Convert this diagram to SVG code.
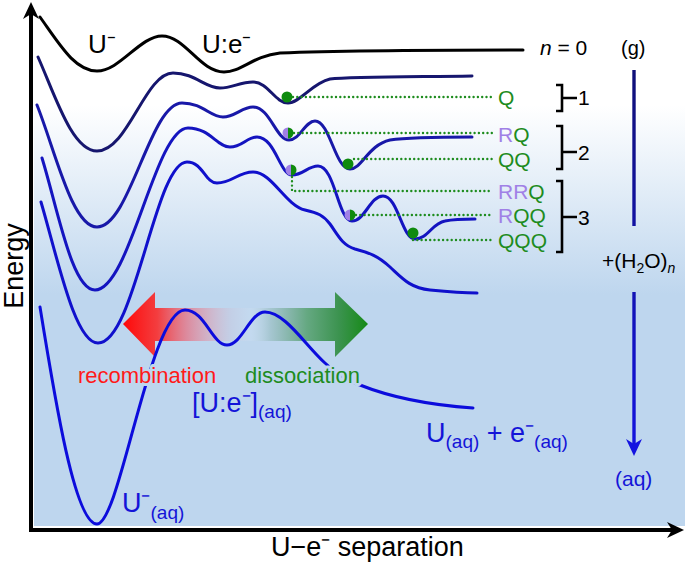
<svg xmlns="http://www.w3.org/2000/svg" width="685" height="565" viewBox="0 0 685 565">
<defs>
<linearGradient id="bg" gradientUnits="userSpaceOnUse" x1="0" y1="0" x2="0" y2="526">
<stop offset="0" stop-color="#ffffff"/>
<stop offset="0.2" stop-color="#ffffff"/>
<stop offset="0.56" stop-color="#bed6ee"/>
<stop offset="1" stop-color="#bed6ee"/>
</linearGradient>
<linearGradient id="arrowGrad" gradientUnits="userSpaceOnUse" x1="123" y1="0" x2="368" y2="0">
<stop offset="0" stop-color="#ff0808" stop-opacity="1"/>
<stop offset="0.14" stop-color="#f83030" stop-opacity="0.92"/>
<stop offset="0.26" stop-color="#f05868" stop-opacity="0.6"/>
<stop offset="0.44" stop-color="#f090a0" stop-opacity="0.1"/>
<stop offset="0.52" stop-color="#ffffff" stop-opacity="0.08"/>
<stop offset="0.6" stop-color="#3a8050" stop-opacity="0.18"/>
<stop offset="0.75" stop-color="#2a8a3a" stop-opacity="0.6"/>
<stop offset="0.88" stop-color="#2a8a3a" stop-opacity="0.88"/>
<stop offset="1" stop-color="#158a15" stop-opacity="1"/>
</linearGradient>
<linearGradient id="vGrad" gradientUnits="userSpaceOnUse" x1="0" y1="70" x2="0" y2="455">
<stop offset="0" stop-color="#101078"/>
<stop offset="1" stop-color="#1414e0"/>
</linearGradient>
</defs>
<style>
.curve{fill:none;stroke-width:3;stroke-linecap:round;stroke-linejoin:round}
.dot{fill:none;stroke:#1e8c1e;stroke-width:2.4;stroke-linecap:round;stroke-dasharray:0 4.3}
.t{font-family:"Liberation Sans",Arial,sans-serif}
.g{fill:#1e8c1e}
.p{fill:#a080e6}
.b{fill:#1414d8}
.k{fill:#000}
.halo{paint-order:stroke;stroke:#bed6ee;stroke-width:6;stroke-linejoin:round}
.brk{fill:none;stroke:#000;stroke-width:2.6}
</style>

<g id="background">
<rect x="34" y="0" width="651" height="526" fill="url(#bg)"/>
</g>

<g id="double-arrow">
<path d="M123,324 L155,292 L155,308 L335,308 L335,292 L368,324 L335,357 L335,341 L155,341 L155,357 Z" fill="url(#arrowGrad)"/>
</g>

<g id="axes">
<path d="M31,532 V12" stroke="#000" stroke-width="4" fill="none"/>
<path d="M31,2 L39,19 L31,14 L23,19 Z" fill="#000"/>
<path d="M29,530 H674" stroke="#000" stroke-width="4" fill="none"/>
<path d="M684,530 L667,538 L672,530 L667,522 Z" fill="#000"/>
</g>

<g id="curves">
<path id="curve-n0" class="curve" stroke="#000" d="M40,17 C60,45 75,71 97,71 C120,71 140,36 162,36 C185,36 200,72 224,72 C242,72 252,56 280,53 C330,51 420,50 523,50"/>
<path id="curve-n1" class="curve" stroke="#16166e" d="M38,57 C55,95 72,151 97,151 C128,151 145,73 173,73 C195,73 205,88 220,88 C232,88 240,82 253,82 C268,82 275,103 288,103 C300,103 312,83 330,79 C350,77 400,77 472,76"/>
<path id="curve-n2" class="curve" stroke="#1818a8" d="M37,105 C55,150 72,227 97,227 C130,227 150,103 182,103 C203,103 210,117 223,117 C235,117 242,107 253,107 C270,107 276,140 289,140 C300,140 305,121 315,121 C330,121 335,169 350,169 C362,169 368,145 390,140 C410,137 440,137 472,137"/>
<path id="curve-n3" class="curve" stroke="#1414c0" d="M42,158 C58,210 72,290 95,290 C130,290 155,128 188,128 C210,128 217,147 230,147 C242,147 247,137 257,137 C275,137 280,175 292,175 C303,175 308,166 318,166 C335,166 338,221 352,221 C365,221 370,196 383,196 C398,196 402,239 415,239 C428,239 432,223 445,221 C455,219 465,219 475,219"/>
<path id="curve-n4" class="curve" stroke="#1010cc" d="M41,202 C58,260 75,343 98,343 C135,343 155,162 187,162 C203,162 205,183 217,183 C232,183 238,172 253,172 C272,172 285,205 305,210 C318,213 323,215 330,224 C338,235 342,245 355,249 C370,253 378,256 390,267 C402,278 410,288 430,290 C450,292 460,293 477,293"/>
<path id="curve-aq" class="curve" stroke="#0c0cdc" d="M40,307 C55,400 75,524 97,524 C120,524 150,310 185,310 C205,310 212,345 227,345 C242,345 250,312 265,312 C285,312 305,345 325,363 C338,375 345,380 360,385 C390,397 430,405 473,408"/>
</g>

<g id="connectors">
<path class="dot" d="M293,97 H493"/>
<path class="dot" d="M294,133 H493"/>
<path class="dot" d="M354,159 H493"/>
<path class="dot" d="M292,177 V191 H493"/>
<path class="dot" d="M356,215 H493"/>
<path class="dot" d="M413,240 H493"/>
<path d="M634,70 V226" stroke="url(#vGrad)" stroke-width="3.4" fill="none"/>
<path d="M634,292 V444" stroke="url(#vGrad)" stroke-width="3.4" fill="none"/>
<path d="M634,456 L626,439 L634,444 L642,439 Z" fill="#1414e0"/>
</g>

<g id="markers">
<circle cx="287" cy="97" r="5.5" fill="#0e8a0e"/>
<path d="M288,127.5 A5.5,5.5 0 0 0 288,138.5 Z" fill="#a080e6"/>
<path d="M288,127.5 A5.5,5.5 0 0 1 288,138.5 Z" fill="#0e8a0e"/>
<circle cx="348" cy="164" r="5.5" fill="#0e8a0e"/>
<path d="M291,164.5 A5.5,5.5 0 0 0 291,175.5 Z" fill="#a080e6"/>
<path d="M291,164.5 A5.5,5.5 0 0 1 291,175.5 Z" fill="#0e8a0e"/>
<path d="M350,209.5 A5.5,5.5 0 0 0 350,220.5 Z" fill="#a080e6"/>
<path d="M350,209.5 A5.5,5.5 0 0 1 350,220.5 Z" fill="#0e8a0e"/>
<circle cx="413" cy="233" r="5.5" fill="#0e8a0e"/>
</g>

<g id="brackets">
<path class="brk" d="M556,85 H562 V111 H556 M562,98 H577"/>
<path class="brk" d="M556,126 H562 V169 H556 M562,152 H577"/>
<path class="brk" d="M556,181 H562 V252 H556 M562,217 H577"/>
</g>

<g id="labels" class="t">
<text class="t k" x="88" y="53" font-size="26">U⁻</text>
<text class="t k" x="202" y="53" font-size="26">U:e⁻</text>
<text class="t k" x="540" y="55" font-size="21"><tspan font-style="italic">n</tspan> = 0</text>
<text class="t k" x="621" y="55" font-size="20">(g)</text>
<text class="t g" x="498" y="105" font-size="21">Q</text>
<text class="t" x="498" y="142" font-size="21"><tspan class="p">R</tspan><tspan class="g">Q</tspan></text>
<text class="t g" x="498" y="167" font-size="21">QQ</text>
<text class="t" x="498" y="199" font-size="21"><tspan class="p">RR</tspan><tspan class="g">Q</tspan></text>
<text class="t" x="498" y="223" font-size="21"><tspan class="p">R</tspan><tspan class="g">QQ</tspan></text>
<text class="t g" x="498" y="248" font-size="21">QQQ</text>
<text class="t k" x="578" y="105" font-size="21">1</text>
<text class="t k" x="578" y="160" font-size="21">2</text>
<text class="t k" x="578" y="225" font-size="21">3</text>
<text class="t k" x="602" y="268" font-size="21">+(H<tspan font-size="14" dy="5">2</tspan><tspan dy="-5">O)</tspan><tspan font-size="14" font-style="italic" dy="5">n</tspan></text>
<text class="t b" x="615" y="486" font-size="21">(aq)</text>
<text class="t halo" x="78" y="383" font-size="22" fill="#ff1a1a">recombination</text>
<text class="t halo" x="245" y="383" font-size="22" fill="#1e8c1e">dissociation</text>
<text class="t b" x="192" y="412" font-size="27">[U:e⁻]<tspan font-size="19" dy="6">(aq)</tspan></text>
<text class="t b" x="122" y="512" font-size="27">U⁻<tspan font-size="19" dy="7">(aq)</tspan></text>
<text class="t b" x="426" y="442" font-size="27">U<tspan font-size="19" dy="6">(aq)</tspan><tspan dy="-6"> + e⁻</tspan><tspan font-size="19" dy="6">(aq)</tspan></text>
<text class="t k" transform="translate(23,266) rotate(-90)" text-anchor="middle" font-size="27">Energy</text>
<text class="t k" x="271" y="556" font-size="27">U−e⁻ separation</text>
</g>
</svg>
